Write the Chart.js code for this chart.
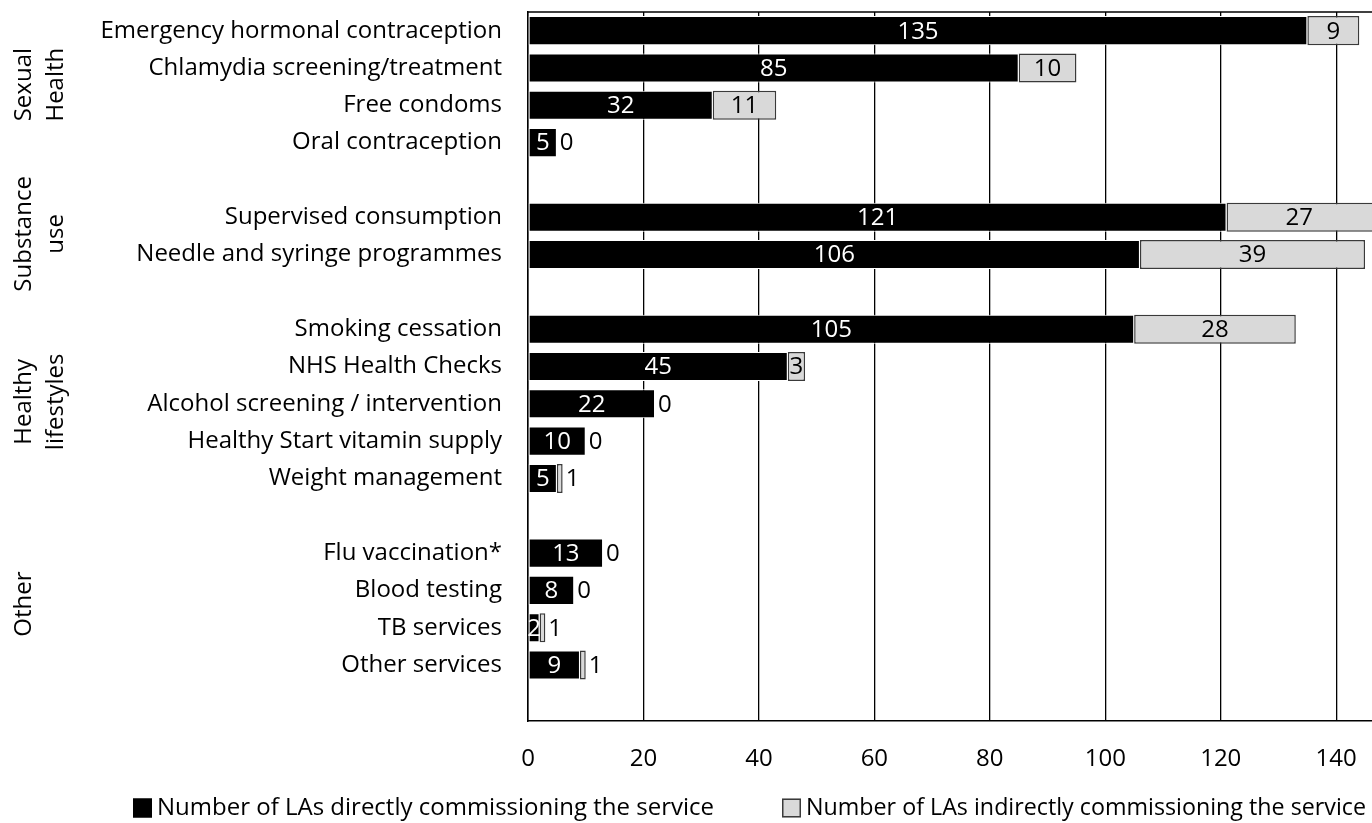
<!DOCTYPE html>
<html><head><meta charset="utf-8">
<script src="https://cdn.jsdelivr.net/npm/chart.js@4.4.1/dist/chart.umd.min.js"></script>
<style>html,body{margin:0;padding:0;background:#fff}#wrap{width:1372px;height:823px;position:relative}</style>
</head><body><div id="wrap"><canvas id="c"></canvas></div>
<script>
const categories = ['Emergency hormonal contraception','Chlamydia screening/treatment','Free condoms','Oral contraception','',
  'Supervised consumption','Needle and syringe programmes','',
  'Smoking cessation','NHS Health Checks','Alcohol screening / intervention','Healthy Start vitamin supply','Weight management','',
  'Flu vaccination*','Blood testing','TB services','Other services',''];
const directValues   = [135,85,32,5,null,121,106,null,105,45,22,10,5,null,13,8,2,9,null];
const indirectValues = [9,10,11,0,null,27,39,null,28,3,0,0,1,null,0,0,1,1,null];
const seriesNames = ['Number of LAs directly commissioning the service','Number of LAs indirectly commissioning the service'];
const groupNames = [['Sexual','Health'],['Substance','use'],['Healthy','lifestyles'],['Other']];
const groupRows = [[0,3],[5,6],[8,12],[14,17]];
const xTickValues = [0,20,40,60,80,100,120,140];

const FONT = "'Open Sans', sans-serif";
const FS = 24;
const BLACK = '#000', GREY = '#d9d9d9', GREY_EDGE = '#3a3a3a';

const labelPlugin = {
  id: 'labels',
  beforeDatasetsDraw(chart) {
    const ctx = chart.ctx, a = chart.chartArea;
    ctx.save();
    ctx.strokeStyle = '#000'; ctx.lineWidth = 1.5;
    ctx.beginPath(); ctx.moveTo(a.left, a.top); ctx.lineTo(a.right, a.top); ctx.stroke();
    ctx.restore();
  },
  afterDatasetsDraw(chart) {
    const ctx = chart.ctx, a = chart.chartArea;
    const m0 = chart.getDatasetMeta(0), m1 = chart.getDatasetMeta(1);
    ctx.save();
    ctx.font = FS + 'px ' + FONT;
    ctx.textBaseline = 'middle';
    directValues.forEach((v, i) => {
      if (v === null) return;
      const b = m0.data[i];
      const l = Math.min(b.base, b.x), r = Math.min(Math.max(b.base, b.x), a.right);
      ctx.fillStyle = '#fff'; ctx.textAlign = 'center';
      ctx.fillText(String(v), (l + r) / 2, b.y + 1);
      const w = indirectValues[i];
      const g = m1.data[i];
      const gl = Math.min(g.base, g.x), gr = Math.max(g.base, g.x);
      const grc = Math.min(gr, a.right);
      const tw = ctx.measureText(String(w)).width;
      ctx.fillStyle = '#000';
      if (grc - gl >= tw + 2) {
        ctx.textAlign = 'center';
        ctx.fillText(String(w), (gl + grc) / 2, g.y + 1);
      } else {
        ctx.textAlign = 'left';
        ctx.fillText(String(w), gr + 3, g.y + 1);
      }
    });
    // group labels
    const ys = chart.scales.y;
    groupNames.forEach((lines, k) => {
      const [r0, r1] = groupRows[k];
      const cy = (ys.getPixelForValue(r0) + ys.getPixelForValue(r1)) / 2 - (lines.length === 1 ? 5 : 2);
      lines.forEach((t, j) => {
        ctx.save();
        ctx.translate(24 + j * 32, cy);
        ctx.rotate(-Math.PI / 2);
        ctx.fillStyle = '#000'; ctx.textAlign = 'center'; ctx.textBaseline = 'middle';
        ctx.fillText(t, 0, 0);
        ctx.restore();
      });
    });
    // legend
    const legendItems = [
      { x: 133, fill: BLACK, edge: BLACK, maxW: 560 },
      { x: 782, fill: GREY, edge: GREY_EDGE, maxW: 560 }
    ];
    const ly = 808;
    legendItems.forEach((it, i) => {
      ctx.fillStyle = it.fill; ctx.fillRect(it.x, ly - 9.5, 19, 19);
      ctx.strokeStyle = it.edge; ctx.lineWidth = 1.5; ctx.strokeRect(it.x + 0.75, ly - 8.75, 17.5, 17.5);
      ctx.fillStyle = '#000'; ctx.textAlign = 'left'; ctx.textBaseline = 'middle';
      ctx.fillText(seriesNames[i], it.x + 24, ly, it.maxW);
    });
    ctx.restore();
  }
};

new Chart(document.getElementById('c'), {
  type: 'bar',
  data: {
    labels: categories,
    datasets: [
      { label: seriesNames[0], data: directValues, backgroundColor: BLACK, borderColor: '#fff', borderWidth: 1, borderSkipped: false,
        barPercentage: 0.78, categoryPercentage: 1 },
      { label: seriesNames[1], data: indirectValues, backgroundColor: GREY, borderColor: GREY_EDGE, borderWidth: 1.5, borderSkipped: false,
        barPercentage: 0.78, categoryPercentage: 1 }
    ]
  },
  options: {
    indexAxis: 'y',
    responsive: true,
    maintainAspectRatio: false,
    animation: false,
    layout: { padding: { top: 12, right: 0, left: 0, bottom: 0 } },
    plugins: {
      tooltip: { enabled: false },
      legend: { display: false }
    },
    scales: {
      x: {
        stacked: true, min: 0, max: 146.2,
        afterBuildTicks(scale) { scale.ticks = xTickValues.map(v => ({ value: v })); },
        ticks: { font: { family: FONT, size: FS }, color: '#000', padding: 24 },
        grid: { color: '#000', lineWidth: 1.3, drawTicks: false },
        border: { color: '#000', width: 1.5 },
        afterFit(scale) { scale.height = 102; scale.paddingLeft = 0; scale.paddingRight = 0; }
      },
      y: {
        stacked: true,
        ticks: { font: { family: FONT, size: FS }, color: '#000', padding: 18, autoSkip: false },
        grid: { display: false },
        border: { color: '#000', width: 1.5 },
        afterFit(scale) { scale.width = 528; scale.paddingTop = 0; scale.paddingBottom = 0; }
      }
    }
  },
  plugins: [labelPlugin]
});
</script>
</body></html>
